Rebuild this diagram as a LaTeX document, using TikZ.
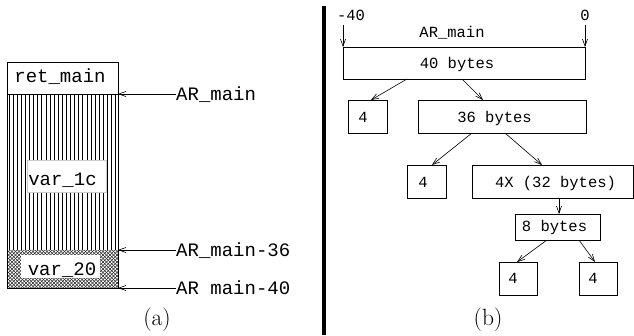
\documentclass[tikz,border=0pt]{standalone}
\usepackage{fontspec}
\newfontfamily\cour{Liberation Mono}
\usetikzlibrary{arrows.meta}
\begin{document}
\begin{tikzpicture}[x=1pt,y=-1pt,
  bx/.style={draw,line width=0.8pt,inner sep=0pt,outer sep=0pt,anchor=north west},
  big/.style={font=\cour\fontsize{19}{21}\selectfont,inner sep=0pt,anchor=base},
  sm/.style={font=\cour\fontsize{15.5}{18}\selectfont,inner sep=0pt,anchor=base},
  capt/.style={font=\fontsize{23.5}{26}\selectfont,inner sep=0pt,anchor=base},
  arr/.style={line width=0.6pt,-{Straight Barb[length=7pt,width=5pt]}},
  hatch/.style={line width=0.7pt},
  xhatch/.style={line width=0.4pt,black!85},
  lblbg/.style={fill=white,draw=black!20,line width=0.4pt},
]
\useasboundingbox (0,0) rectangle (634,335);

% ---------- (a) ----------
\begin{scope}
  \clip (7,94) rectangle (118,250);
  \foreach \x in {9,13.1,...,118} \draw[hatch] (\x,94) -- (\x,250);
\end{scope}
\begin{scope}
  \clip (7,250) rectangle (118,288);
  \foreach \i in {-42,-38.5,...,120} {
    \draw[xhatch] (\i,250) -- ++(38,38);
    \draw[xhatch] (\i,288) -- ++(38,-38);
  }
\end{scope}
\fill[lblbg] (27,160) rectangle (106,192);
\fill[white] (21,255) rectangle (100,278);

\node[bx, minimum width=111pt, minimum height=32pt] (ret) at (7,62) {};
\node[bx, minimum width=111pt, minimum height=194pt] (stk) at (7,94) {};
\node[big] (tret) at (60,82) {ret\_main};
\node[big] (v1c) at (62.5,185) {var\_1c};
\node[big] (v20) at (62,275) {var\_20};

\coordinate (p1) at (stk.north east);
\coordinate (p2) at ([yshift=38pt]stk.south east);
\coordinate (p3) at (stk.south east);

\node[big, anchor=base west] (l1) at (176,100) {AR\_main};
\node[big, anchor=base west] (l2) at (176,256) {AR\_main-36};
\node[big, anchor=base west] (l3) at (176,294) {AR main-40};
\draw[arr] (l1.west |- p1) -- (p1);
\draw[arr] (l2.west |- p2) -- (p2);
\draw[arr] (l3.west |- p3) -- (p3);

\node[capt] (capa) at (157,325) {(a)};

% separator
\draw[line width=3.5pt] (324,6) -- (324,335);

% ---------- (b) ----------
\node[bx, minimum width=242pt, minimum height=32pt] (b40) at (343,47) {};
\node[bx, minimum width=39pt, minimum height=33pt] (b4a) at (348,100) {};
\node[bx, minimum width=168pt, minimum height=33pt] (b36) at (418,100) {};
\node[bx, minimum width=39pt, minimum height=33pt] (b4b) at (407,165) {};
\node[bx, minimum width=161pt, minimum height=33pt] (b4x) at (472,165) {};
\node[bx, minimum width=85pt, minimum height=26pt] (b8) at (515,214) {};
\node[bx, minimum width=38pt, minimum height=33pt] (b4c) at (499,262) {};
\node[bx, minimum width=38pt, minimum height=33pt] (b4d) at (579,262) {};

\node[sm] (tm40) at (351,20) {-40};
\node[sm] (t0) at (585,20) {0};
\node[sm] (tar) at (452,37) {AR\_main};
\node[sm] (t40) at (457,68) {40 bytes};
\node[sm] (t4a) at (363,122) {4};
\node[sm] (t36) at (494.5,122) {36 bytes};
\node[sm] (t4b) at (423,187) {4};
\node[sm] (t4x) at (555.5,187) {4X (32 bytes)};
\node[sm] (t8) at (554.5,231) {8 bytes};
\node[sm] (t4c) at (513,283) {4};
\node[sm] (t4d) at (593,283) {4};

\coordinate (s1) at (343,25);
\coordinate (s2) at (585,25);
\draw[arr] (s1) -- (b40.north west);
\draw[arr] (s2) -- (b40.north east);

\draw[arr] ([xshift=64pt]b40.south west) -- ([xshift=23pt]b4a.north west);
\draw[arr] ([xshift=119pt]b40.south west) -- ([xshift=65pt]b36.north west);
\draw[arr] ([xshift=54pt]b36.south west) -- ([xshift=25pt]b4b.north west);
\draw[arr] ([xshift=87pt]b36.south west) -- ([xshift=70pt]b4x.north west);
\draw[arr] ([xshift=87pt]b4x.south west) -- ([xshift=44pt]b8.north west);
\draw[arr] ([xshift=32pt]b8.south west) -- ([xshift=18pt]b4c.north west);
\draw[arr] ([xshift=64pt]b8.south west) -- ([xshift=16pt]b4d.north west);

\node[capt] (capb) at (488,325) {(b)};
\end{tikzpicture}
\end{document}
